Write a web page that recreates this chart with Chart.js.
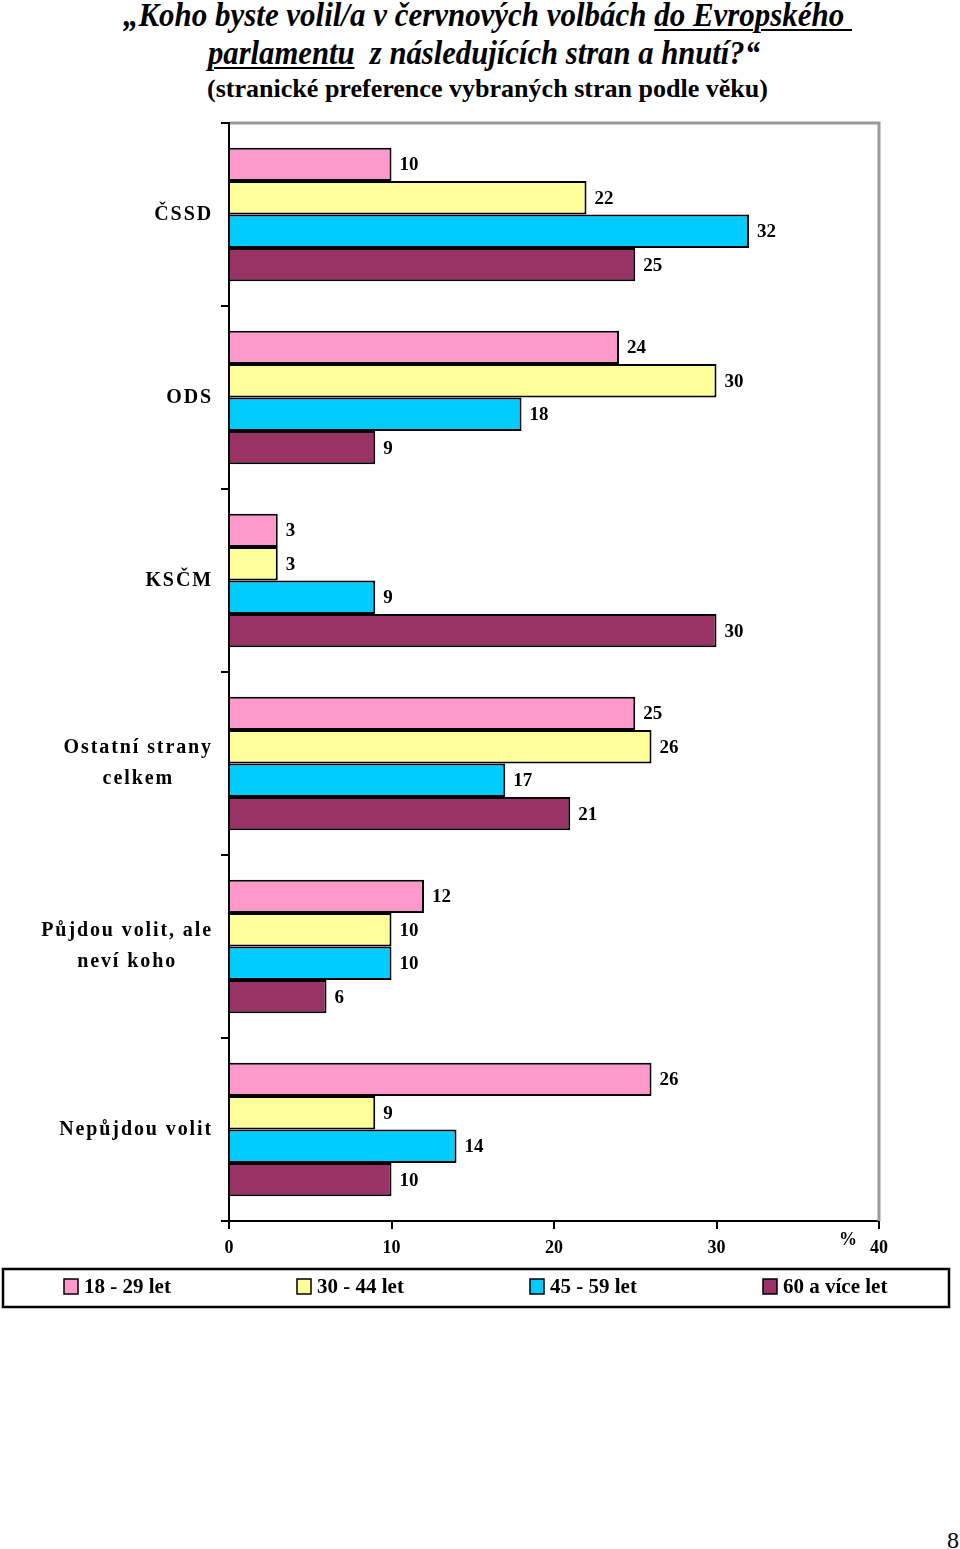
<!DOCTYPE html>
<html><head><meta charset="utf-8">
<script src="https://cdn.jsdelivr.net/npm/chart.js@4.4.0/dist/chart.umd.min.js"></script>
<style>
html,body{margin:0;padding:0;background:#fff;}
body{width:960px;height:1549px;position:relative;overflow:hidden;font-family:"Liberation Serif","Times New Roman",serif;}
#c{position:absolute;left:0;top:0;}
.t{position:absolute;white-space:pre;transform-origin:0 0;font-weight:bold;color:#000;line-height:1;}
.t1{font-style:italic;font-size:33px;}
.t3{font-size:26px;}
u{text-decoration-thickness:2px;text-underline-offset:3px;}
#pg{position:absolute;left:947px;top:1528px;font-size:24px;line-height:1;}
</style></head>
<body>
<div class="t t1" id="l1" data-left="123" data-width="729">„Koho byste volil/a v červnových volbách <u>do Evropského </u></div>
<div class="t t1" id="l2" data-left="208" data-width="552"><u>parlamentu</u>  z následujících stran a hnutí?“</div>
<div class="t t3" id="l3" data-left="207" data-width="561">(stranické preference vybraných stran podle věku)</div>
<div id="pg">8</div>
<canvas id="c" width="960" height="1549"></canvas>
<script>
const categories = [["ČSSD"],["ODS"],["KSČM"],["Ostatní strany","celkem"],["Půjdou volit, ale","neví koho"],["Nepůjdou volit"]];
const seriesNames = ["18 - 29 let","30 - 44 let","45 - 59 let","60 a více let"];
const age18_29 = [10,24,3,25,12,26];
const age30_44 = [22,30,3,26,10,9];
const age45_59 = [32,18,9,17,10,14];
const age60plus = [25,9,30,21,6,10];
const xTicks = [0,10,20,30,40];
const colors = ['#FF99CC','#FFFF99','#00CCFF','#993366'];

// title positioning
document.getElementById('l1').style.top='-1px';
document.getElementById('l2').style.top='37px';
document.getElementById('l3').style.top='76px';
document.querySelectorAll('.t').forEach(el=>{
  el.style.left = el.dataset.left+'px';
  const w = el.getBoundingClientRect().width;
  el.style.transform = 'scaleX('+(parseFloat(el.dataset.width)/w)+')';
});

const FONT = '"Liberation Serif","Times New Roman",serif';
const serieData = [age18_29, age30_44, age45_59, age60plus];

const extras = {
  id:'extras',
  afterDatasetsDraw(chart){
    const ctx = chart.ctx;
    ctx.save();
    ctx.font = 'bold 19px '+FONT;
    ctx.fillStyle = '#000';
    ctx.textAlign = 'left';
    ctx.textBaseline = 'middle';
    chart.data.datasets.forEach((ds,di)=>{
      const meta = chart.getDatasetMeta(di);
      meta.data.forEach((el,i)=>{
        ctx.fillText(String(ds.data[i]), el.x + 8, el.y + 1);
      });
    });
    ctx.restore();
  },
  afterDraw(chart){
    const ctx = chart.ctx;
    const a = chart.chartArea;
    ctx.save();
    // gray plot border top & right
    ctx.strokeStyle = '#9a9a9a';
    ctx.lineWidth = 3;
    ctx.beginPath();
    ctx.moveTo(a.left+1, a.top);
    ctx.lineTo(a.right, a.top);
    ctx.lineTo(a.right, a.bottom);
    ctx.stroke();
    // category labels
    const ys = chart.scales.y;
    ctx.font = 'bold 20px '+FONT;
    ctx.letterSpacing = '1.9px';
    ctx.fillStyle = '#000';
    ctx.textAlign = 'center';
    ctx.textBaseline = 'middle';
    categories.forEach((lines,i)=>{
      const cy = ys.getPixelForValue(i);
      let W = 0;
      lines.forEach(l=>{W = Math.max(W, ctx.measureText(l).width);});
      const cx = 213 - W/2;
      const lh = 31;
      const y0 = cy - (lines.length-1)*lh/2;
      lines.forEach((l,k)=>ctx.fillText(l, cx, y0 + k*lh));
    });
    ctx.letterSpacing = '0px';
    // percent sign
    const xs = chart.scales.x;
    ctx.font = 'bold 18px '+FONT;
    ctx.fillText('%', xs.getPixelForValue(40) - 31, a.bottom + 19);
    // legend
    ctx.strokeStyle = '#000';
    ctx.lineWidth = 2.5;
    ctx.strokeRect(3, 1269, 946, 38);
    ctx.font = 'bold 21px '+FONT;
    ctx.textAlign = 'left';
    chart.data.datasets.forEach((ds,i)=>{
      const x = 64 + i*233;
      ctx.fillStyle = ds.backgroundColor;
      ctx.fillRect(x, 1279, 14, 15);
      ctx.lineWidth = 1.5;
      ctx.strokeRect(x, 1279, 14, 15);
      ctx.fillStyle = '#000';
      ctx.fillText(ds.label, x + 20, 1288);
    });
    ctx.restore();
  }
};

new Chart(document.getElementById('c'), {
  type:'bar',
  data:{
    labels: categories,
    datasets: serieData.map((d,i)=>({
      label: seriesNames[i],
      data: d,
      backgroundColor: colors[i],
      borderColor:'#000',
      borderWidth:2,
      categoryPercentage:0.73,
      barPercentage:1
    }))
  },
  options:{
    indexAxis:'y',
    responsive:false,
    animation:false,
    devicePixelRatio:1,
    layout:{padding:{top:123,right:81,left:0,bottom:0}},
    plugins:{legend:{display:false},tooltip:{enabled:false},title:{display:false}},
    scales:{
      x:{
        type:'linear', min:0, max:40, position:'bottom',
        afterBuildTicks:(s)=>{s.ticks = xTicks.map(v=>({value:v}));},
        ticks:{font:{family:FONT,size:18,weight:'bold'},color:'#000',padding:9},
        grid:{drawOnChartArea:false,drawTicks:true,tickLength:8,color:'#000',lineWidth:2},
        border:{color:'#000',width:2},
        afterFit:(s)=>{s.height = 328;}
      },
      y:{
        type:'category',
        ticks:{display:false},
        grid:{drawOnChartArea:false,drawTicks:true,tickLength:8,color:'#000',lineWidth:2,offset:true},
        border:{color:'#000',width:2},
        afterFit:(s)=>{s.width = 229;}
      }
    }
  },
  plugins:[extras]
});
</script>
</body></html>
